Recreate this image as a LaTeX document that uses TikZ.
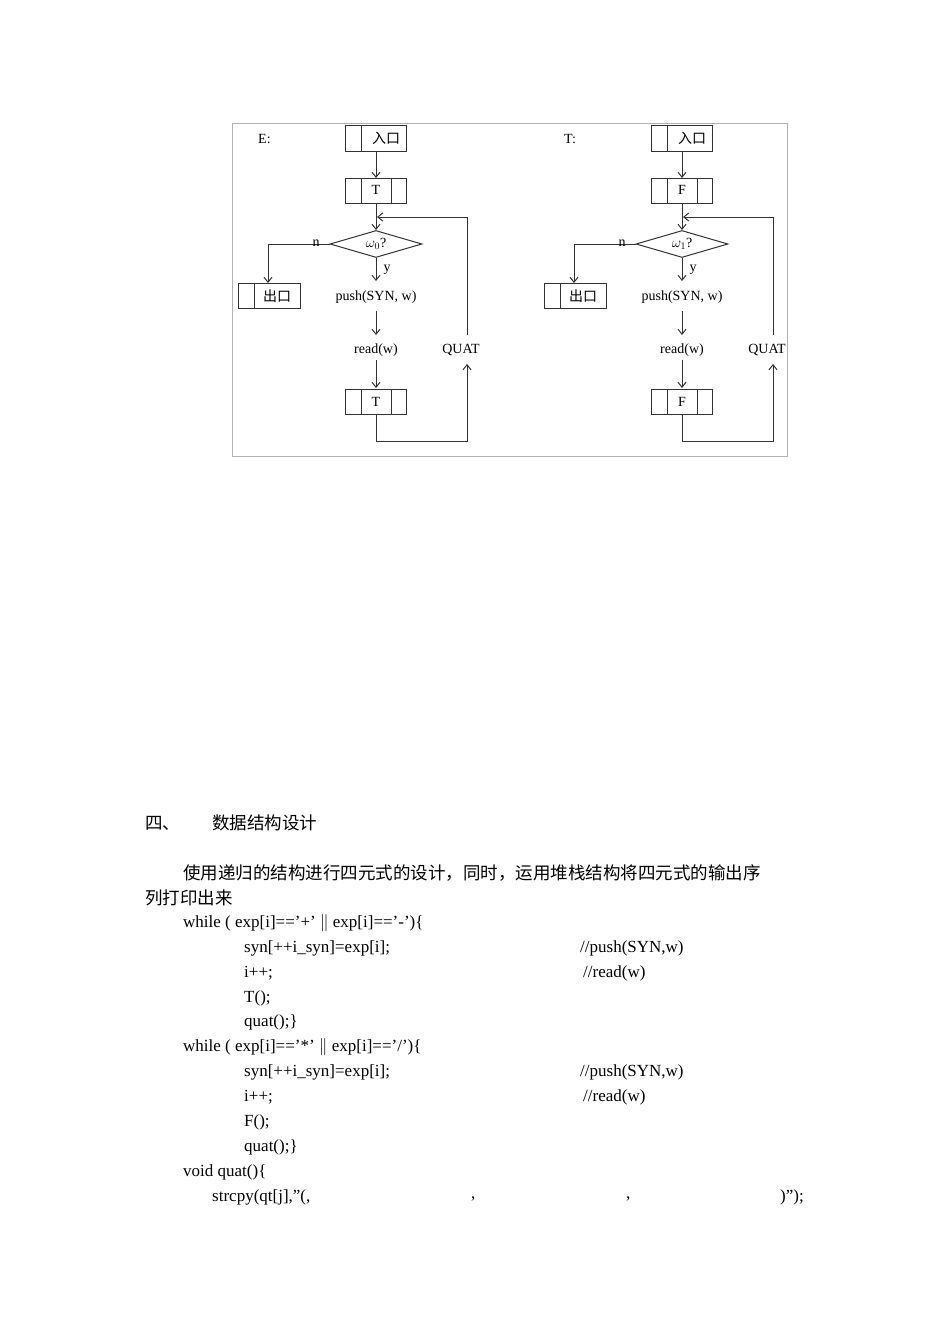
\documentclass[tikz,border=0pt]{standalone}
\usepackage{fontspec}
\setmainfont{Liberation Serif}
\newfontfamily\cjk{Noto Sans CJK SC}
\usetikzlibrary{shapes.geometric,arrows.meta}
\begin{document}
\begin{tikzpicture}[x=1pt,y=-1pt,
  ln/.style={draw=black!80,line width=1pt},
  ar/.style={ln,-{Straight Barb[length=5pt,width=8pt]}},
  lbl/.style={inner sep=0,font=\fontsize{14}{16}\selectfont},
  tx/.style={inner sep=0,anchor=west,font=\fontsize{17}{20}\selectfont},
  cn/.style={inner sep=0,anchor=west,font=\cjk\fontsize{17.5}{20}\selectfont}]
\useasboundingbox (0,0) rectangle (950,1344);
\fill[white] (0,0) rectangle (950,1344);
\draw[black!30,line width=1pt] (232,123) rectangle (787,456);
\foreach \dx/\nm/\lab/\om/\bx in {0/E/E:/0/T,306/T/T:/1/F}{
 \begin{scope}[xshift=\dx]
 \node[lbl,anchor=west] (\nm lab) at (258,139) {\lab};
 % entry
 \draw[ln] (345,125) rectangle (406,151); \draw[ln] (361,125)--(361,151);
 \node[lbl] (\nm in) at (386,138) {\cjk 入口};
 \coordinate (\nm inb) at (376,151);
 % first box
 \draw[ln] (345,178) rectangle (406,203); \draw[ln] (361,178)--(361,203) (391,178)--(391,203);
 \node[lbl] (\nm b1) at (376,190) {\bx};
 \coordinate (\nm b1t) at (376,178); \coordinate (\nm b1b) at (376,203);
 \draw[ar] (\nm inb)--(\nm b1t);
 % diamond
 \node[diamond,draw=black!80,line width=1pt,minimum width=92pt,minimum height=27pt,inner sep=0,aspect=3.4,font=\fontsize{14}{16}\selectfont] (\nm d) at (376,244) {$\omega_{\om}$?};
 \draw[ar] (\nm b1b)--(\nm d.north);
 % exit
 \draw[ln] (238,283) rectangle (300,308); \draw[ln] (254,283)--(254,308);
 \node[lbl] (\nm out) at (277,296) {\cjk 出口};
 \coordinate (\nm outt) at (268,283);
 \draw[ar] (\nm d.west)--(268,244)--(\nm outt);
 \node[lbl] (\nm n) at (316,243) {n};
 \node[lbl] (\nm push) at (376,297) {push(SYN, w)};
 \draw[ar] (\nm d.south)--(376,281);
 \node[lbl] (\nm y) at (387,270) {y};
 \node[lbl] (\nm read) at (376,350) {read(w)};
 \draw[ar] (376,311)--(376,335);
 \draw[ar] (376,360)--(376,388);
 \draw[ln] (345,389) rectangle (406,414); \draw[ln] (361,389)--(361,414) (391,389)--(391,414);
 \node[lbl] (\nm b2) at (376,402) {\bx};
 \node[lbl] (\nm quat) at (461,350) {QUAT};
 \draw[ar] (376,414)--(376,441)--(467,441)--(467,364);
 \draw[ar] (467,335)--(467,217)--(377,217);
 \end{scope}}
% text
\node[cn] (h1) at (145,823) {四、};
\node[cn] (h2) at (212,823) {数据结构设计};
\node[cn] (p1) at (183,873) {使用递归的结构进行四元式的设计，同时，运用堆栈结构将四元式的输出序};
\node[cn] (p2) at (145,898) {列打印出来};
\node[tx] (w1) at (183,923) {while ( exp[i]=='+' \ensuremath{\|} exp[i]=='-')\{};
\node[tx] (s1) at (244,948) {syn[++i\_syn]=exp[i];};
\node[tx] (c1) at (580,948) {//push(SYN,w)};
\node[tx] (i1) at (244,973) {i++;};
\node[tx] (r1) at (583,973) {//read(w)};
\node[tx] (t1) at (244,998) {T();};
\node[tx] (q1) at (244,1022) {quat();\}};
\node[tx] (w2) at (183,1047) {while ( exp[i]=='*' \ensuremath{\|} exp[i]=='/')\{};
\node[tx] (s2) at (244,1072) {syn[++i\_syn]=exp[i];};
\node[tx] (c2) at (580,1072) {//push(SYN,w)};
\node[tx] (i2) at (244,1097) {i++;};
\node[tx] (r2) at (583,1097) {//read(w)};
\node[tx] (f2) at (244,1122) {F();};
\node[tx] (q2) at (244,1147) {quat();\}};
\node[tx] (v) at (183,1172) {void quat()\{};
\node[tx] (sc) at (212,1197) {strcpy(qt[j],"(,};
\node[tx] (k1) at (471,1199) {,};
\node[tx] (k2) at (626,1199) {,};
\node[tx] (e) at (780,1197) {)");};
\end{tikzpicture}
\end{document}
